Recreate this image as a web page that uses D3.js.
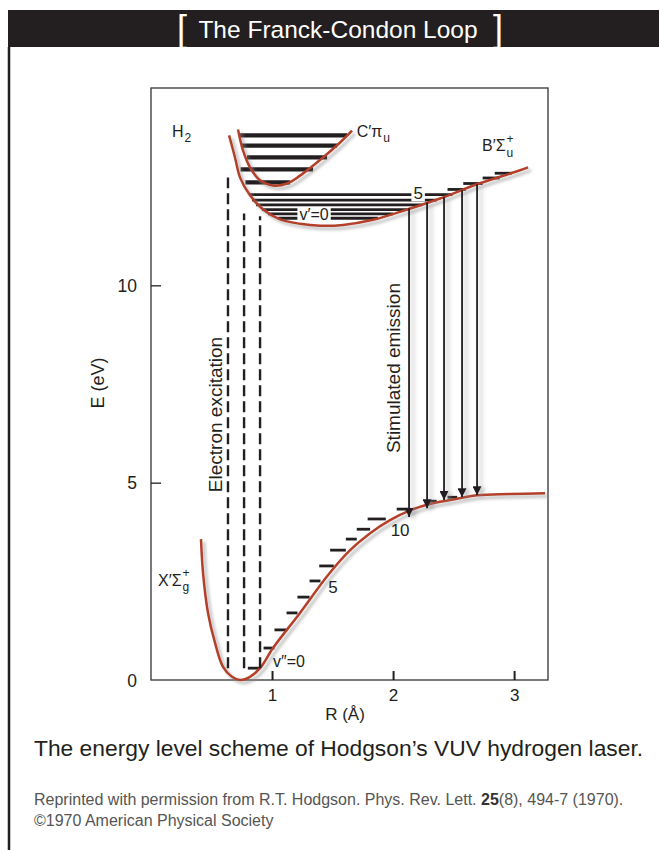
<!DOCTYPE html>
<html>
<head>
<meta charset="utf-8">
<script src="https://cdn.jsdelivr.net/npm/d3@7"></script>
<style>
body{margin:0;background:#fff;}
text{font-family:"Liberation Sans", Arial, Helvetica, sans-serif;}
</style>
</head>
<body>
<div id="chart"></div>
<script>
// values: R in Angstrom, E in eV
const xTicks = [1, 2, 3]
const yTicks = [0, 5, 10]

// ground state X'Σg+
const groundCurve = [[0.413,3.57],[0.430,2.71],[0.471,1.70],[0.529,0.94],[0.595,0.33],[0.669,0.08],
  [0.736,0.00],[0.818,0.08],[0.901,0.30],[1.008,0.81],[1.231,1.70],[1.463,2.66],[1.645,3.29],
  [1.810,3.72],[1.975,4.05],[2.140,4.30],[2.306,4.46],[2.471,4.56],[2.694,4.68],[2.967,4.71],[3.256,4.73]]
// [E, R left, R right]
const groundLevels = [[0.30,0.80,0.90],[0.81,0.93,1.02],[1.27,1.02,1.12],[1.70,1.12,1.21],[2.10,1.21,1.31],
  [2.51,1.31,1.40],[2.89,1.39,1.51],[3.29,1.48,1.61],[3.57,1.61,1.70],[3.82,1.70,1.81],[4.08,1.79,1.94],
  [4.33,2.03,2.14],[4.53,2.28,2.36],[4.63,2.45,2.53]]

// B'Σu+
const bCurve = [[0.645,13.80],[0.694,13.24],[0.736,12.73],[0.818,12.28],[0.926,11.92],[1.066,11.67],
  [1.231,11.56],[1.397,11.51],[1.587,11.53],[1.835,11.66],[2.116,11.92],[2.388,12.20],[2.694,12.56],
  [3.025,12.89],[3.116,12.99]]
const bLevels = [[12.30,0.818,2.49],[12.16,0.835,2.36],[12.04,0.868,2.24],[11.92,0.917,2.12],
  [11.81,0.967,2.00],[11.70,1.05,1.876],[12.43,2.45,2.60],[12.58,2.58,2.74],[12.72,2.74,2.88],[12.84,2.84,2.98]]

// C'πu
const cCurve = [[0.719,13.95],[0.760,13.42],[0.818,12.99],[0.901,12.66],[1.008,12.53],[1.124,12.58],
  [1.231,12.78],[1.421,13.24],[1.562,13.62],[1.661,13.92]]
const cLevels = [[13.80,0.736,1.62],[13.54,0.752,1.537],[13.24,0.793,1.455],[12.94,0.74,1.339],[12.61,0.78,1.149]]

// electron excitation (dashed): [R, E bottom, E top]
const excitation = [[0.636,0.30,12.73],[0.769,0.30,11.82],[0.901,0.30,11.75]]
// stimulated emission (arrows): [R, E top, E bottom]
const emission = [[2.132,11.95,4.13],[2.281,12.10,4.35],[2.421,12.23,4.56],[2.570,12.41,4.63],[2.694,12.56,4.68]]

const W = 659, H = 850
const curveColor = "#b4402a"
const ink = "#231f20"

const svg = d3.select("#chart").append("svg")
  .attr("width", W).attr("height", H)

let defs = svg.append("defs")
let shadow = defs.append("filter").attr("id","shadow").attr("filterUnits","userSpaceOnUse")
  .attr("x",0).attr("y",0).attr("width",W).attr("height",H)
shadow.append("feDropShadow").attr("dx",3).attr("dy",3).attr("stdDeviation",1.8)
  .attr("flood-color","#8a8a8a").attr("flood-opacity",0.6)
let arrowShadow = defs.append("filter").attr("id","arrowShadow").attr("filterUnits","userSpaceOnUse")
  .attr("x",0).attr("y",0).attr("width",W).attr("height",H)
arrowShadow.append("feDropShadow").attr("dx",4).attr("dy",2).attr("stdDeviation",2)
  .attr("flood-color","#8a8a8a").attr("flood-opacity",0.55)
defs.append("marker").attr("id","head")
  .attr("viewBox","0 0 10 10").attr("refX",10).attr("refY",5)
  .attr("markerWidth",5).attr("markerHeight",5).attr("markerUnits","strokeWidth")
  .attr("orient","auto")
  .append("path").attr("d","M0,0L10,5L0,10Z").attr("fill",ink)

// header + page border
svg.append("rect").attr("x",8).attr("y",10).attr("width",W-8).attr("height",37).attr("fill",ink)
svg.append("line").attr("x1",9).attr("x2",9).attr("y1",47).attr("y2",H)
  .attr("stroke",ink).attr("stroke-width",2.5)
svg.append("text").attr("x",338).attr("y",38).attr("text-anchor","middle").attr("fill","#fff")
  .attr("font-size",24.5).text("The Franck-Condon Loop")
svg.append("text").attr("x",177).attr("y",41).attr("fill","#fff")
  .attr("font-size",36).attr("font-weight",300).text("[")
svg.append("text").attr("x",503).attr("y",41).attr("fill","#fff").attr("text-anchor","end")
  .attr("font-size",36).attr("font-weight",300).text("]")

// scales
const x = d3.scaleLinear().domain([0, 3.28]).range([151, 548])
const y = d3.scaleLinear().domain([0, 15]).range([680, 88])

const g = svg.append("g")

g.append("rect").attr("x",x(0)).attr("y",y(15))
  .attr("width",x(3.28)-x(0)).attr("height",y(0)-y(15))
  .attr("fill","none").attr("stroke","#333").attr("stroke-width",1.3)

const xAxis = d3.axisBottom(x).tickValues(xTicks).tickSize(-9).tickPadding(9).tickFormat(d3.format("d"))
const yAxis = d3.axisLeft(y).tickValues(yTicks).tickSize(-10).tickPadding(14).tickFormat(d3.format("d"))

let gx = g.append("g").attr("transform",`translate(0,${y(0)})`).call(xAxis)
let gy = g.append("g").attr("transform",`translate(${x(0)},0)`).call(yAxis)
gx.select(".domain").remove()
gy.select(".domain").remove()
gx.selectAll(".tick line").attr("stroke",ink).attr("stroke-width",2)
gy.selectAll(".tick line").attr("stroke",ink).attr("stroke-width",1.3)
gx.selectAll(".tick text").attr("font-size",17).attr("fill",ink).attr("font-family","Liberation Sans, Arial")
gy.selectAll(".tick text").attr("font-size",17.5).attr("fill",ink).attr("font-family","Liberation Sans, Arial").attr("dy","0.36em")
gy.selectAll(".tick").filter(d => d === 0).select("line").remove()

g.append("text").attr("x",345).attr("y",720).attr("text-anchor","middle")
  .attr("font-size",17).attr("fill",ink).text("R (Å)")
g.append("text").attr("transform",`translate(98,${383}) rotate(-90)`).attr("dy","0.35em")
  .attr("text-anchor","middle").attr("font-size",18).attr("fill",ink).text("E (eV)")

const line = d3.line().curve(d3.curveCatmullRom.alpha(0.5)).x(d => x(d[0])).y(d => y(d[1]))

// vibrational levels
function levels(data, w){
  g.append("g").selectAll("line").data(data).join("line")
    .attr("x1", d => x(d[1])).attr("x2", d => x(d[2]))
    .attr("y1", d => y(d[0])).attr("y2", d => y(d[0]))
    .attr("stroke", ink).attr("stroke-width", w)
}
levels(cLevels, 4.2)
levels(bLevels, 2.8)
levels(groundLevels, 2.8)

// potential curves
;[groundCurve, bCurve, cCurve].forEach(c => {
  g.append("path").datum(c).attr("d", line)
    .attr("fill","none").attr("stroke",curveColor).attr("stroke-width",2.5)
    .attr("filter","url(#shadow)")
})

// electron excitation
g.append("g").selectAll("line").data(excitation).join("line")
  .attr("x1", d => x(d[0])).attr("x2", d => x(d[0]))
  .attr("y1", d => y(d[1])).attr("y2", d => y(d[2]))
  .attr("stroke", ink).attr("stroke-width", 2.4).attr("stroke-dasharray","11,5")

// stimulated emission
g.append("g").attr("filter","url(#arrowShadow)")
  .selectAll("line").data(emission).join("line")
  .attr("x1", d => x(d[0])).attr("x2", d => x(d[0]))
  .attr("y1", d => y(d[1])).attr("y2", d => y(d[2]))
  .attr("stroke", ink).attr("stroke-width", 1.8)
  .attr("marker-end","url(#head)")

// labels
function label(t, xv, yv, size, anchor){
  return g.append("text").attr("x", x(xv)).attr("y", y(yv)).attr("dy","0.35em")
    .attr("text-anchor", anchor || "start").attr("font-size", size).attr("fill", ink).text(t)
}
function boxed(t, xv, yv, size){
  let tx = label(t, xv, yv, size, "middle")
  let b = tx.node().getBBox()
  g.insert("rect", () => tx.node()).attr("x",b.x-2).attr("y",b.y+2).attr("width",b.width+4).attr("height",b.height-4).attr("fill","#fff")
  return tx
}
// sub/superscript helper
function withScripts(base, xv, yv, sup, sub){
  let t = label(base, xv, yv, 16)
  let w = t.node().getComputedTextLength()
  if (sup) g.append("text").attr("x", x(xv)+w+1).attr("y", y(yv)-3).attr("font-size",12).attr("fill",ink).text(sup)
  if (sub) g.append("text").attr("x", x(xv)+w+1).attr("y", y(yv)+11).attr("font-size",12).attr("fill",ink).text(sub)
}
withScripts("H", 0.174, 13.9, null, "2")
withScripts("C′π", 1.70, 13.9, null, "u")
withScripts("B′Σ", 2.735, 13.54, "+", "u")
withScripts("X′Σ", 0.058, 2.53, "+", "g")

boxed("v′=0", 1.347, 11.80, 16)
boxed("5", 2.207, 12.33, 17)
label("v″=0", 1.008, 0.46, 16)
label("5", 1.504, 2.35, 17, "middle")
label("10", 2.058, 3.80, 17, "middle")

g.append("text").attr("transform",`translate(${x(0.529)},${y(4.76)}) rotate(-90)`).attr("dy","0.35em")
  .attr("font-size",19).attr("fill",ink).text("Electron excitation")
g.append("text").attr("transform",`translate(${x(2.0)},${y(5.75)}) rotate(-90)`).attr("dy","0.35em")
  .attr("font-size",19).attr("fill",ink).text("Stimulated emission")

// caption
svg.append("text").attr("x",34).attr("y",756).attr("font-size",22.8).attr("fill",ink)
  .text("The energy level scheme of Hodgson’s VUV hydrogen laser.")
let cr = svg.append("text").attr("x",34).attr("y",805).attr("font-size",16).attr("fill","#555")
cr.append("tspan").text("Reprinted with permission from R.T. Hodgson. Phys. Rev. Lett. ")
cr.append("tspan").attr("font-weight","bold").attr("fill","#333").text("25")
cr.append("tspan").text("(8), 494-7 (1970).")
svg.append("text").attr("x",34).attr("y",826).attr("font-size",16).attr("fill","#555")
  .text("©1970 American Physical Society")
</script>
</body>
</html>
